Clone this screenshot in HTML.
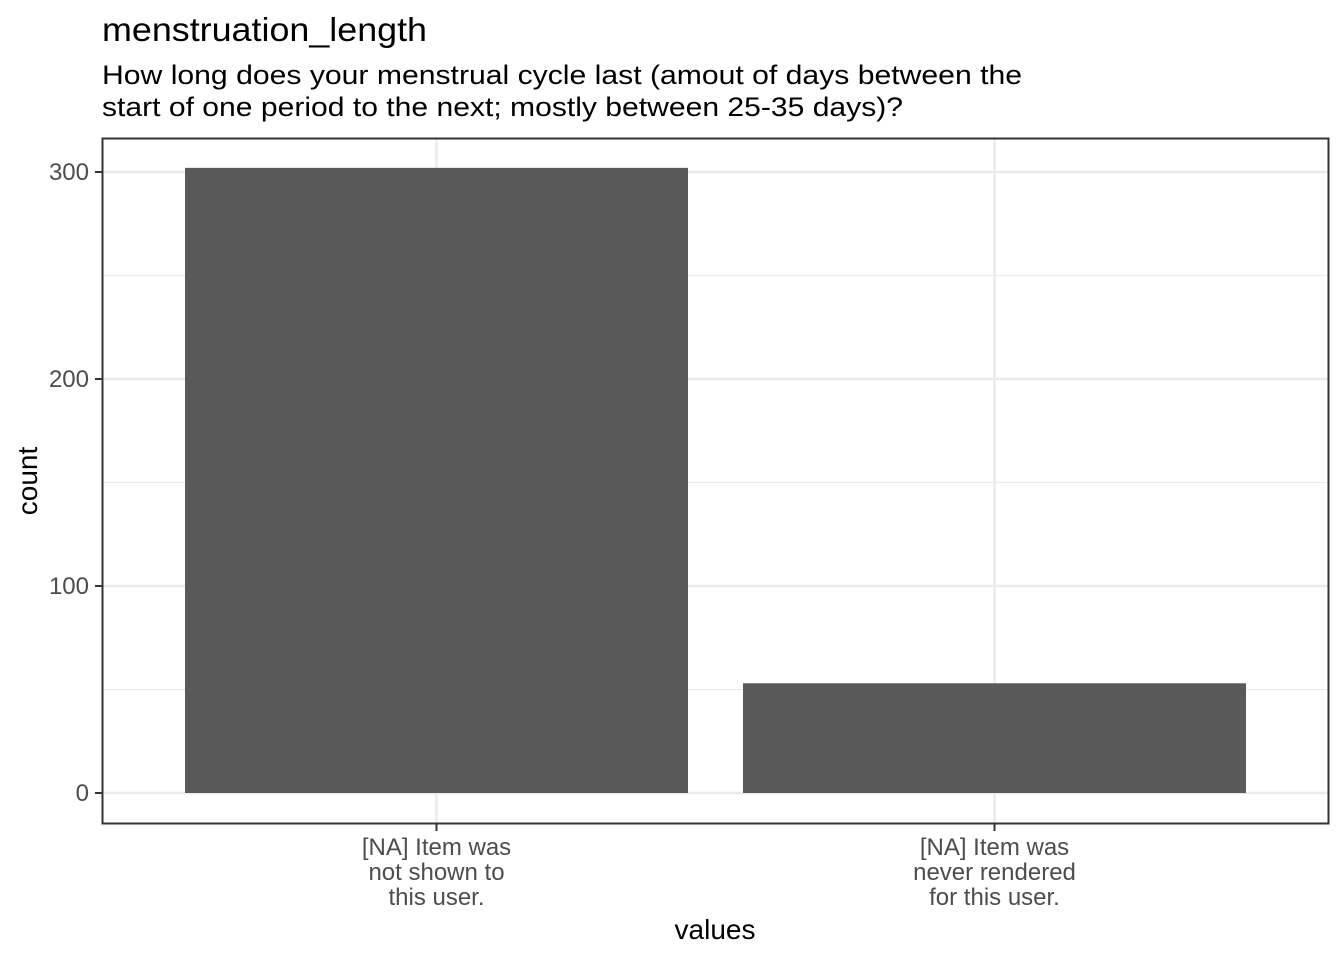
<!DOCTYPE html>
<html><head><meta charset="utf-8"><style>
body{margin:0;background:#fff;font-family:"Liberation Sans",Arial,sans-serif;}
svg text{font-family:"Liberation Sans",Arial,sans-serif;}
</style></head><body>
<svg id="chart" width="1344" height="960">
<text x="102" y="41" font-size="33" fill="#000" textLength="325" lengthAdjust="spacingAndGlyphs">menstruation_length</text>
<text x="102" y="84" font-size="27" fill="#000" textLength="920" lengthAdjust="spacingAndGlyphs">How long does your menstrual cycle last (amout of days between the</text>
<text x="102" y="116" font-size="27" fill="#000" textLength="801" lengthAdjust="spacingAndGlyphs">start of one period to the next; mostly between 25-35 days)?</text>
<g id="grid"></g>
<g id="bars"></g>
<rect x="102.5" y="138.5" width="1226" height="685" fill="none" stroke="#333" stroke-width="2"/>
<g id="axes"></g>
<text x="715" y="939" font-size="28" text-anchor="middle">values</text>
<text transform="translate(37,481) rotate(-90)" font-size="28" text-anchor="middle">count</text>
</svg>
<script>
const categories = [["[NA] Item was","not shown to","this user."],["[NA] Item was","never rendered","for this user."]];
const counts = [302, 53];
const yTicks = [0, 100, 200, 300];
const NS="http://www.w3.org/2000/svg";
const y0=793, pxPer=2.07;
function yS(v){return y0-v*pxPer;}
const xCenters=[436.5,994.5];
function xS(i){return xCenters[0]+i*(xCenters[1]-xCenters[0]);}
const bw=503;
function mk(t,a,p){const e=document.createElementNS(NS,t);for(const k in a)e.setAttribute(k,a[k]);p.appendChild(e);return e;}
const grid=document.getElementById('grid'),bars=document.getElementById('bars'),axes=document.getElementById('axes');
for(let i=0;i<yTicks.length;i++){
  const y=yS(yTicks[i]);
  const l=mk('line',{x1:103,x2:1328,y1:y,y2:y,stroke:'#ebebeb','stroke-width':2.5},grid);
  
  
  if(i<yTicks.length-1){const ym=yS((yTicks[i]+yTicks[i+1])/2);
    const m=mk('line',{x1:103,x2:1328,y1:ym,y2:ym,stroke:'#ebebeb','stroke-width':1.3},grid);
    
    }
  const t=mk('line',{x1:95,x2:102,y1:y,y2:y,stroke:'#333','stroke-width':2},axes);
  
  
  const tx=mk('text',{x:89,y:y+8,'font-size':24,fill:'#4d4d4d','text-anchor':'end'},axes);
  tx.textContent=yTicks[i];
  
  
}
for(let i=0;i<categories.length;i++){
  const x=xS(i);
  const g=mk('line',{x1:x,x2:x,y1:139,y2:823,stroke:'#ebebeb','stroke-width':2.5},grid);
  
  
  const b=mk('rect',{x:x-bw/2,y:yS(counts[i]),width:bw,height:counts[i]*pxPer,fill:'#595959'},bars);
  
  
  const t=mk('line',{x1:x,x2:x,y1:824,y2:831,stroke:'#333','stroke-width':2},axes);
  
  
  categories[i].forEach((s,j)=>{
    const tx=mk('text',{x:x,y:855+j*25,'font-size':24,fill:'#4d4d4d','text-anchor':'middle'},axes);
    tx.textContent=s;
    
    
  });
}
</script>
</body></html>
